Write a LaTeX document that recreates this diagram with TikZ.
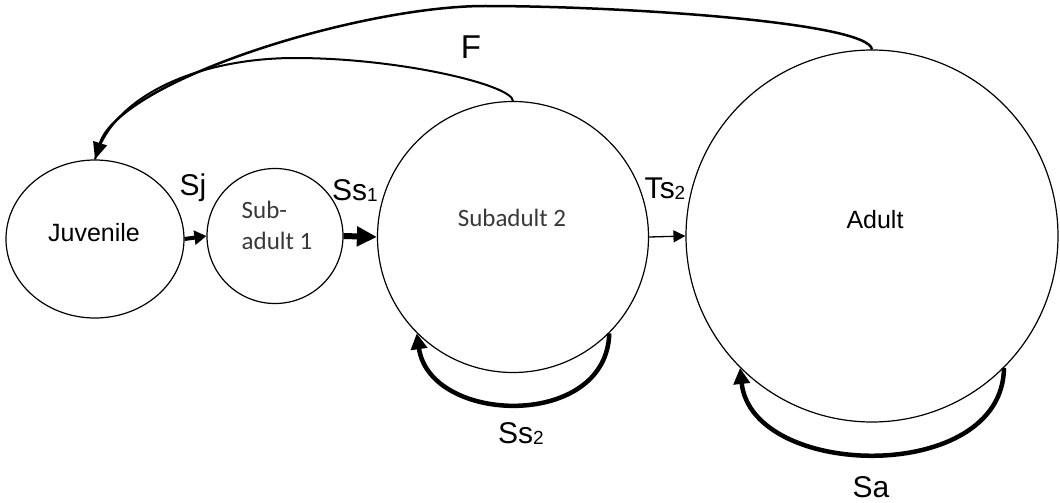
\documentclass[tikz,border=0pt]{standalone}
\usepackage{fontspec}
\setmainfont{Liberation Sans}
\newfontfamily\calibrifont{Carlito}
\usetikzlibrary{arrows.meta,shapes.geometric}
\begin{document}
\begin{tikzpicture}[x=1pt,y=-1pt,
  stage/.style={draw, line width=1.2pt, inner sep=0pt, ellipse},
  rnd/.style={draw, line width=1.2pt, inner sep=0pt, circle},
  sname/.style={font=\fontsize{25}{30}\selectfont, text=black},
  cname/.style={font=\calibrifont\fontsize{25}{31}\selectfont, text=black!78, align=left},
  rate/.style={font=\fontsize{30}{30}\selectfont, anchor=base, inner sep=0pt},
  loop/.style={line width=4.5pt, -{Triangle[length=16pt,width=16pt]}},
  fec/.style={line width=2pt}
]
\useasboundingbox (0,0) rectangle (1060,503);
% stages
\node[stage, minimum width=178pt, minimum height=158pt] (juv) at (95,239) {};
\node[stage, minimum width=136pt, minimum height=135pt] (sa1) at (275,236) {};
\node[rnd, minimum size=271pt] (sa2) at (513,237) {};
\node[rnd, minimum size=372pt] (ad) at (872,236) {};
% stage names
\node[sname] (tjuv) at (94,233) {Juvenile};
\node[cname] (tsa1) at (277,225) {Sub-\\adult 1};
\node[cname] (tsa2) at (512,218) {Subadult 2};
\node[sname] (tad) at (875,220) {Adult};
% transitions
\draw[line width=4pt, -{Triangle[length=12pt,width=14pt]}] (juv.east) -- (sa1.west);
\draw[line width=6pt, -{Triangle[length=20pt,width=19pt]}] (sa1.east) -- (sa2.west);
\draw[line width=1.3pt, -{Triangle[length=12pt,width=12pt]}] (sa2.east) -- (ad.west);
% fecundity
\draw[fec] (sa2.north) .. controls (512,85) and (400,58) .. (295,58)
  .. controls (200,58) and (112,95) .. (juv.north);
\draw[fec, line width=2.5pt, -{Triangle[length=17pt,width=14pt]}] (ad.north)
  .. controls (868,22) and (620,6) .. (485,6)
  .. controls (360,6) and (120,80) .. (juv.north);
% self loops
\draw[loop] (sa2.-45) .. controls (607,430) and (430,425) .. (sa2.-135);
\draw[loop] (ad.-45) .. controls (1003,485) and (752,480) .. (ad.-135);
% labels
\node[rate] (lsj) at (193,195) {Sj};
\node[rate] (lss1) at (355,200) {Ss\raisebox{-1pt}{\fontsize{19}{19}\selectfont 1}};
\node[rate] (lts2) at (665,198) {Ts\raisebox{-1pt}{\fontsize{19}{19}\selectfont 2}};
\node[rate, font=\fontsize{33}{33}\selectfont] (lf) at (471,59) {F};
\node[rate] (lss2) at (521,443) {Ss\raisebox{-1pt}{\fontsize{19}{19}\selectfont 2}};
\node[rate] (lsa) at (871,497) {Sa};
\end{tikzpicture}
\end{document}
